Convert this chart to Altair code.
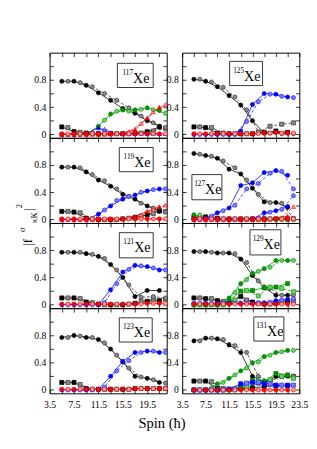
import altair as alt
import pandas as pd

SERIF = "Liberation Serif"

# spins of the two signature branches
SPIN_A = [5.5, 7.5, 9.5, 11.5, 13.5, 15.5, 17.5, 19.5, 21.5]
SPIN_B = [6.5, 8.5, 10.5, 12.5, 14.5, 16.5, 18.5, 20.5, 22.5]

# ---------------- 117Xe ----------------
XE117_BLK_A = [0.78, 0.78, 0.72, 0.61, 0.50, 0.38, 0.31, 0.20, 0.12]
XE117_BLK_B = [0.78, 0.76, 0.70, 0.60, 0.50, 0.39, 0.27, 0.17, 0.10]
XE117_BSQ_A = [0.11, 0.04, 0.02, 0.01, 0.01, 0.01, 0.02, 0.04, 0.11]
XE117_BSQ_B = [0.10, 0.03, 0.01, 0.01, 0.01, 0.01, 0.02, 0.05, 0.09]
XE117_GRN_A = [0.00, 0.00, 0.00, 0.12, 0.30, 0.36, 0.36, 0.39, 0.35]
XE117_GRN_B = [0.00, 0.00, 0.01, 0.21, 0.34, 0.34, 0.37, 0.36, 0.31]
XE117_BLU_A = [0.00, 0.00, 0.01, 0.10, 0.02, 0.01, 0.01, 0.01, 0.01]
XE117_BLU_B = [0.00, 0.00, 0.02, 0.08, 0.02, 0.01, 0.01, 0.01, 0.01]
XE117_RTR_A = [0.00, 0.00, 0.00, 0.00, 0.01, 0.02, 0.07, 0.24, 0.40]
XE117_RTR_B = [0.00, 0.00, 0.00, 0.00, 0.01, 0.04, 0.16, 0.33, 0.44]
XE117_RED_A = [0.01, 0.01, 0.01, 0.01, 0.01, 0.01, 0.01, 0.01, 0.01]
XE117_RED_B = [0.01, 0.01, 0.01, 0.01, 0.01, 0.01, 0.01, 0.01, 0.01]

# ---------------- 119Xe ----------------
XE119_BLK_A = [0.77, 0.77, 0.70, 0.58, 0.49, 0.37, 0.30, 0.20, 0.12]
XE119_BLK_B = [0.77, 0.76, 0.66, 0.57, 0.45, 0.34, 0.24, 0.17, 0.11]
XE119_BSQ_A = [0.12, 0.11, 0.02, 0.00, 0.00, 0.01, 0.03, 0.07, 0.13]
XE119_BSQ_B = [0.12, 0.10, 0.01, 0.00, 0.00, 0.02, 0.05, 0.09, 0.12]
XE119_BLU_A = [0.00, 0.00, 0.00, 0.08, 0.20, 0.30, 0.36, 0.42, 0.45]
XE119_BLU_B = [0.00, 0.00, 0.00, 0.14, 0.28, 0.34, 0.40, 0.44, 0.45]
XE119_RTR_A = [0.00, 0.00, 0.00, 0.00, 0.00, 0.01, 0.05, 0.12, 0.19]
XE119_RTR_B = [0.00, 0.00, 0.00, 0.00, 0.00, 0.02, 0.07, 0.15, 0.21]
XE119_RED_A = [0.01, 0.01, 0.01, 0.01, 0.01, 0.01, 0.01, 0.01, 0.01]
XE119_RED_B = [0.01, 0.01, 0.01, 0.01, 0.01, 0.01, 0.01, 0.01, 0.01]

# ---------------- 121Xe ----------------
XE121_BLK_A = [0.77, 0.77, 0.75, 0.71, 0.59, 0.40, 0.12, 0.21, 0.21]
XE121_BLK_B = [0.77, 0.77, 0.74, 0.68, 0.51, 0.29, 0.11, 0.12, 0.10]
XE121_BSQ_A = [0.10, 0.10, 0.04, 0.01, 0.00, 0.00, 0.02, 0.05, 0.06]
XE121_BSQ_B = [0.10, 0.09, 0.03, 0.00, 0.00, 0.01, 0.05, 0.08, 0.08]
XE121_BLU_A = [0.00, 0.00, 0.00, 0.00, 0.22, 0.48, 0.58, 0.56, 0.51]
XE121_BLU_B = [0.00, 0.00, 0.00, 0.03, 0.31, 0.52, 0.57, 0.54, 0.51]
XE121_RED_A = [0.01, 0.01, 0.01, 0.01, 0.01, 0.01, 0.01, 0.02, 0.02]
XE121_RED_B = [0.01, 0.01, 0.01, 0.01, 0.01, 0.01, 0.01, 0.02, 0.02]

# ---------------- 123Xe ----------------
XE123_BLK_A = [0.77, 0.80, 0.77, 0.74, 0.60, 0.41, 0.20, 0.17, 0.11]
XE123_BLK_B = [0.77, 0.79, 0.77, 0.69, 0.51, 0.32, 0.19, 0.15, 0.10]
XE123_BSQ_A = [0.11, 0.11, 0.02, 0.01, 0.01, 0.01, 0.02, 0.02, 0.02]
XE123_BSQ_B = [0.11, 0.08, 0.01, 0.01, 0.01, 0.01, 0.02, 0.02, 0.02]
XE123_BLU_A = [0.00, 0.00, 0.00, 0.01, 0.20, 0.42, 0.55, 0.57, 0.55]
XE123_BLU_B = [0.00, 0.00, 0.00, 0.04, 0.28, 0.43, 0.55, 0.57, 0.55]
XE123_RED_A = [0.01, 0.01, 0.01, 0.01, 0.01, 0.01, 0.02, 0.02, 0.02]
XE123_RED_B = [0.01, 0.01, 0.01, 0.01, 0.01, 0.01, 0.02, 0.02, 0.02]

# ---------------- 125Xe ----------------
XE125_BLK_A = [0.81, 0.78, 0.70, 0.57, 0.43, 0.20, 0.02, 0.03, 0.02]
XE125_BLK_B = [0.81, 0.77, 0.69, 0.55, 0.36, 0.04, 0.02, 0.01, 0.01]
XE125_BSQ_A = [0.11, 0.10, 0.02, 0.01, 0.01, 0.01, 0.03, 0.05, 0.03]
XE125_BSQ_B = [0.11, 0.10, 0.02, 0.01, 0.01, 0.03, 0.12, 0.15, 0.17]
XE125_BLU_A = [0.00, 0.00, 0.00, 0.00, 0.05, 0.44, 0.60, 0.59, 0.55]
XE125_BLU_B = [0.00, 0.00, 0.00, 0.00, 0.19, 0.48, 0.59, 0.56, 0.54]
XE125_RED_A = [0.01, 0.01, 0.01, 0.01, 0.01, 0.01, 0.02, 0.03, 0.02]
XE125_RED_B = [0.01, 0.01, 0.01, 0.01, 0.01, 0.01, 0.02, 0.02, 0.02]

# ---------------- 127Xe ----------------
XE127_BLK_A = [0.97, 0.94, 0.90, 0.74, 0.67, 0.46, 0.26, 0.25, 0.18]
XE127_BLK_B = [0.96, 0.93, 0.86, 0.76, 0.58, 0.37, 0.25, 0.24, 0.02]
XE127_BSQ_A = [0.03, 0.04, 0.02, 0.01, 0.01, 0.01, 0.01, 0.01, 0.01]
XE127_BSQ_B = [0.03, 0.03, 0.01, 0.01, 0.01, 0.01, 0.01, 0.01, 0.01]
XE127_GRN_A = [0.07, 0.01, 0.00, 0.00, 0.00, 0.00, 0.00, 0.00, 0.00]
XE127_GRN_B = [0.07, 0.00, 0.00, 0.00, 0.00, 0.00, 0.00, 0.00, 0.00]
XE127_BLU_A = [0.00, 0.02, 0.10, 0.17, 0.50, 0.54, 0.69, 0.72, 0.65]
XE127_BLU_B = [0.00, 0.05, 0.13, 0.21, 0.45, 0.53, 0.68, 0.71, 0.45]
XE127_BL2_A = [0.00, 0.00, 0.00, 0.00, 0.00, 0.01, 0.10, 0.13, 0.19]
XE127_BL2_B = [0.00, 0.00, 0.00, 0.00, 0.00, 0.02, 0.11, 0.15, 0.35]
XE127_RTR_A = [0.00, 0.00, 0.00, 0.00, 0.00, 0.00, 0.00, 0.02, 0.05]
XE127_RTR_B = [0.00, 0.00, 0.00, 0.00, 0.00, 0.00, 0.01, 0.03, 0.19]
XE127_RED_A = [0.01, 0.01, 0.01, 0.01, 0.01, 0.01, 0.01, 0.01, 0.01]
XE127_RED_B = [0.01, 0.01, 0.01, 0.01, 0.01, 0.01, 0.01, 0.01, 0.01]

# ---------------- 129Xe ----------------
XE129_BLK_A = [0.78, 0.78, 0.76, 0.76, 0.67, 0.43, 0.25, 0.14, 0.14]
XE129_BLK_B = [0.78, 0.77, 0.76, 0.75, 0.62, 0.35, 0.24, 0.14, 0.14]
XE129_BSQ_A = [0.10, 0.09, 0.06, 0.03, 0.12, 0.04, 0.01, 0.02, 0.05]
XE129_BSQ_B = [0.10, 0.09, 0.05, 0.04, 0.07, 0.02, 0.01, 0.05, 0.05]
XE129_GRN_A = [0.00, 0.00, 0.00, 0.10, 0.31, 0.46, 0.53, 0.65, 0.65]
XE129_GRN_B = [0.00, 0.00, 0.00, 0.18, 0.37, 0.49, 0.55, 0.65, 0.65]
XE129_GSQ_A = [0.00, 0.00, 0.00, 0.05, 0.20, 0.21, 0.25, 0.26, 0.31]
XE129_GSQ_B = [0.00, 0.00, 0.00, 0.07, 0.21, 0.13, 0.26, 0.24, 0.19]
XE129_BLU_A = [0.02, 0.02, 0.02, 0.02, 0.02, 0.02, 0.03, 0.06, 0.08]
XE129_BLU_B = [0.02, 0.02, 0.02, 0.02, 0.02, 0.03, 0.04, 0.07, 0.09]
XE129_RED_A = [0.01, 0.01, 0.01, 0.01, 0.01, 0.01, 0.01, 0.01, 0.01]
XE129_RED_B = [0.01, 0.01, 0.01, 0.01, 0.01, 0.01, 0.01, 0.01, 0.01]

# ---------------- 131Xe ----------------
XE131_BLK_A = [0.72, 0.76, 0.75, 0.66, 0.55, 0.20, 0.12, 0.20, 0.20]
XE131_BLK_B = [0.72, 0.76, 0.74, 0.65, 0.55, 0.20, 0.13, 0.20, 0.20]
XE131_BSQ_A = [0.13, 0.13, 0.02, 0.01, 0.02, 0.03, 0.05, 0.06, 0.06]
XE131_BSQ_B = [0.13, 0.12, 0.02, 0.01, 0.03, 0.10, 0.13, 0.20, 0.20]
XE131_GRN_A = [0.00, 0.00, 0.09, 0.17, 0.28, 0.40, 0.49, 0.55, 0.58]
XE131_GRN_B = [0.00, 0.03, 0.11, 0.22, 0.32, 0.41, 0.51, 0.56, 0.58]
XE131_GSQ_A = [0.00, 0.00, 0.00, 0.00, 0.04, 0.14, 0.12, 0.24, 0.22]
XE131_GSQ_B = [0.00, 0.00, 0.00, 0.00, 0.05, 0.13, 0.15, 0.20, 0.17]
XE131_BLU_A = [0.00, 0.00, 0.00, 0.01, 0.09, 0.11, 0.09, 0.07, 0.07]
XE131_BLU_B = [0.00, 0.00, 0.00, 0.02, 0.10, 0.11, 0.09, 0.07, 0.07]
XE131_RED_A = [0.00, 0.00, 0.00, 0.00, 0.00, 0.00, 0.00, 0.00, 0.00]
XE131_RED_B = [0.00, 0.00, 0.00, 0.00, 0.00, 0.00, 0.00, 0.00, 0.00]

SERIES = {
    "117": [("black", "square", XE117_BSQ_A, XE117_BSQ_B),
            ("black", "circle", XE117_BLK_A, XE117_BLK_B),
            ("green", "circle", XE117_GRN_A, XE117_GRN_B),
            ("blue", "triangle-up", XE117_BLU_A, XE117_BLU_B),
            ("red", "triangle-up", XE117_RTR_A, XE117_RTR_B),
            ("red", "circle", XE117_RED_A, XE117_RED_B)],
    "119": [("black", "square", XE119_BSQ_A, XE119_BSQ_B),
            ("black", "circle", XE119_BLK_A, XE119_BLK_B),
            ("blue", "circle", XE119_BLU_A, XE119_BLU_B),
            ("red", "triangle-up", XE119_RTR_A, XE119_RTR_B),
            ("red", "circle", XE119_RED_A, XE119_RED_B)],
    "121": [("black", "square", XE121_BSQ_A, XE121_BSQ_B),
            ("black", "circle", XE121_BLK_A, XE121_BLK_B),
            ("blue", "circle", XE121_BLU_A, XE121_BLU_B),
            ("red", "circle", XE121_RED_A, XE121_RED_B)],
    "123": [("black", "square", XE123_BSQ_A, XE123_BSQ_B),
            ("black", "circle", XE123_BLK_A, XE123_BLK_B),
            ("blue", "circle", XE123_BLU_A, XE123_BLU_B),
            ("red", "circle", XE123_RED_A, XE123_RED_B)],
    "125": [("black", "square", XE125_BSQ_A, XE125_BSQ_B),
            ("black", "circle", XE125_BLK_A, XE125_BLK_B),
            ("blue", "circle", XE125_BLU_A, XE125_BLU_B),
            ("red", "circle", XE125_RED_A, XE125_RED_B)],
    "127": [("black", "square", XE127_BSQ_A, XE127_BSQ_B),
            ("black", "circle", XE127_BLK_A, XE127_BLK_B),
            ("green", "circle", XE127_GRN_A, XE127_GRN_B),
            ("blue", "circle", XE127_BLU_A, XE127_BLU_B),
            ("blue", "circle", XE127_BL2_A, XE127_BL2_B),
            ("red", "triangle-up", XE127_RTR_A, XE127_RTR_B),
            ("red", "circle", XE127_RED_A, XE127_RED_B)],
    "129": [("black", "square", XE129_BSQ_A, XE129_BSQ_B),
            ("black", "circle", XE129_BLK_A, XE129_BLK_B),
            ("green", "square", XE129_GSQ_A, XE129_GSQ_B),
            ("green", "circle", XE129_GRN_A, XE129_GRN_B),
            ("blue", "circle", XE129_BLU_A, XE129_BLU_B),
            ("red", "circle", XE129_RED_A, XE129_RED_B)],
    "131": [("black", "square", XE131_BSQ_A, XE131_BSQ_B),
            ("black", "circle", XE131_BLK_A, XE131_BLK_B),
            ("green", "square", XE131_GSQ_A, XE131_GSQ_B),
            ("green", "circle", XE131_GRN_A, XE131_GRN_B),
            ("blue", "square", XE131_BLU_A, XE131_BLU_B),
            ("red", "circle", XE131_RED_A, XE131_RED_B)],
}

# (fill, stroke, line) per colour family and signature branch
STYLE = {
    "black": {"A": ("#000000", "#000000", "#000000"), "B": ("#8a8a8a", "#333333", "#333333")},
    "blue": {"A": ("#0000ff", "#0000ff", "#0000ff"), "B": ("#7c7cff", "#2020ff", "#2020ff")},
    "green": {"A": ("#009a00", "#007a00", "#009a00"), "B": ("#72cc72", "#009a00", "#009a00")},
    "red": {"A": ("#ff0000", "#ff0000", "#ff0000"), "B": ("#ffa8a8", "#ff0000", "#ff0000")},
}

# label boxes, in panel pixels: x0, x1, y0, y1
BOXES = {
    "117": (70, 107, 11, 36), "119": (72, 107, 10, 35),
    "121": (72, 107, 10, 36), "123": (72, 106, 10, 35),
    "125": (49, 83, 9, 34), "127": (10, 41, 38, 64),
    "129": (70, 102, 7, 33), "131": (74, 105, 9, 34),
}

# rotated y title |f^sigma_kK|^2, placed beside the 121Xe panel (panel pixels)
YPARTS = [("|f", 13, -22, 20), ("σ", 9, -28, 7), ("κK", 9, -16, -5.5),
          ("|", 13, -21.5, -14), ("2", 8, -30.5, -17.5)]

PW, PH = 121, 88


def panel_df(series):
    rows = []
    for i, (col, shp, va, vb) in enumerate(series):
        for sig, spins, vals in (("A", SPIN_A, va), ("B", SPIN_B, vb)):
            fc, sc, lc = STYLE[col][sig]
            for s, v in zip(spins, vals):
                rows.append(dict(spin=s, val=v, key=f"{i:02d}{sig}", sig=sig,
                                 fc=fc, sc=sc, lc=lc, shp=shp))
    return pd.DataFrame(rows)


XLAB = "(datum.value + 0.5) % 4 == 0 ? format(datum.value, '.1f') : ''"
YLAB = "datum.value == 0 ? '0' : (round(datum.value * 10) % 4 == 0 ? format(datum.value, '.1f') : '')"


def ax(orient, values, labels, expr, pad=4):
    return alt.Axis(orient=orient, values=values, labels=labels, labelExpr=expr,
                    tickSize=4, offset=-4, domain=False, grid=False, title=None,
                    tickColor="black", tickWidth=0.8, labelFont=SERIF,
                    labelFontSize=10, labelColor="black", labelPadding=pad,
                    labelFlush=False, labelOverlap=False)


def make_panel(name, xmax, xticks, bottom, ytitle=False):
    df = panel_df(SERIES[name])
    xs = alt.Scale(domain=[3.5, xmax], nice=False, zero=False)
    ys = alt.Scale(domain=[-0.05, 1.2], nice=False, zero=False)
    yvals = [0, 0.2, 0.4, 0.6, 0.8, 1.0]
    x_enc = alt.X("spin:Q", scale=xs, axis=ax("bottom", xticks, bottom, XLAB, 7))
    y_enc = alt.Y("val:Q", scale=ys, axis=ax("left", yvals, True, YLAB))
    base = alt.Chart(df)
    line_a = base.transform_filter("datum.sig == 'A'").mark_line(strokeWidth=0.8).encode(
        x=x_enc, y=y_enc, detail="key:N", color=alt.Color("lc:N", scale=None))
    line_b = base.transform_filter("datum.sig == 'B'").mark_line(
        strokeWidth=0.8, strokeDash=[3, 2]).encode(
        x=x_enc, y=y_enc, detail="key:N", color=alt.Color("lc:N", scale=None))
    pts = base.mark_point(filled=True, size=18, strokeWidth=0.7, opacity=1).encode(
        x=x_enc, y=y_enc,
        fill=alt.Fill("fc:N", scale=None),
        stroke=alt.Stroke("sc:N", scale=None),
        shape=alt.Shape("shp:N", scale=None))
    x0, x1, y0, y1 = BOXES[name]
    one = alt.Chart(pd.DataFrame({"n": [name]}))
    rect = one.mark_rect(fill="white", stroke="black", strokeWidth=0.8).encode(
        x=alt.value(x0), x2=alt.value(x1), y=alt.value(y0), y2=alt.value(y1))
    split = x0 + 0.44 * (x1 - x0)
    sup = one.mark_text(font=SERIF, fontSize=7.5, align="right", baseline="alphabetic",
                        color="black").encode(
        x=alt.value(split), y=alt.value(y0 + 12), text=alt.value(name))
    xe = one.mark_text(font=SERIF, fontSize=14.5, align="left", baseline="alphabetic",
                       color="black").encode(
        x=alt.value(split), y=alt.value(y0 + 20), text=alt.value("Xe"))
    layers = [line_a, line_b, pts, rect, sup, xe]
    if ytitle:
        for txt, fs, px, py in YPARTS:
            layers.append(one.mark_text(angle=270, font=SERIF, fontSize=fs, align="center",
                                        baseline="middle", color="black").encode(
                x=alt.value(px), y=alt.value(py), text=alt.value(txt)))
    inner = alt.layer(*layers)
    mirror = base.mark_point(opacity=0).encode(
        x=alt.X("spin:Q", scale=xs, axis=ax("top", xticks, False, XLAB)),
        y=alt.Y("val:Q", scale=ys, axis=ax("right", yvals, False, YLAB)))
    return alt.layer(inner, mirror).resolve_axis(
        x="independent", y="independent").properties(width=PW, height=PH)


LEFT_TICKS = [3.5, 5.5, 7.5, 9.5, 11.5, 13.5, 15.5, 17.5, 19.5, 21.5]
RIGHT_TICKS = [3.5, 5.5, 7.5, 9.5, 11.5, 13.5, 15.5, 17.5, 19.5, 21.5, 23.5]

panels = [
    make_panel("117", 22.7, LEFT_TICKS, False),
    make_panel("125", 23.5, RIGHT_TICKS, False),
    make_panel("119", 22.7, LEFT_TICKS, False),
    make_panel("127", 23.5, RIGHT_TICKS, False),
    make_panel("121", 22.7, LEFT_TICKS, False, ytitle=True),
    make_panel("129", 23.5, RIGHT_TICKS, False),
    make_panel("123", 22.7, LEFT_TICKS, True),
    make_panel("131", 23.5, RIGHT_TICKS, True),
]

chart = alt.concat(
    *panels, columns=2, spacing=alt.RowColnumber(row=0, column=16), bounds="flush"
).properties(
    title=alt.TitleParams("Spin (ħ)", orient="bottom", anchor="middle", font=SERIF,
                          fontSize=15, fontWeight="normal", color="black", offset=6),
    padding={"left": 8, "top": 38, "right": 0, "bottom": 0},
).configure_view(stroke="black", strokeWidth=1)

chart.save("out.html", embed_options={"renderer": "svg", "actions": False})
